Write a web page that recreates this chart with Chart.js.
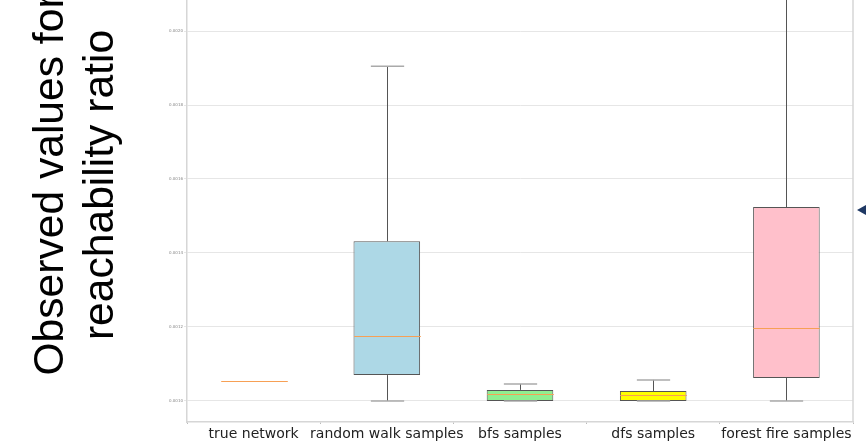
<!DOCTYPE html>
<html>
<head>
<meta charset="utf-8">
<script src="https://cdn.jsdelivr.net/npm/chart.js@4"></script>
<style>
  html, body { margin: 0; padding: 0; background: #fff; overflow: hidden; }
  #wrap { position: relative; width: 867px; height: 442px; }
  #marker {
    position: absolute; left: 857px; top: 205px; width: 0; height: 0;
    border-top: 5px solid transparent; border-bottom: 5px solid transparent;
    border-right: 9px solid #1f3864;
  }
</style>
</head>
<body>
<div id="wrap">
  <canvas id="chart" width="867" height="442"></canvas>
  <div id="marker"></div>
</div>
<script>
// box plot statistics
const categories = ['true network', 'random walk samples', 'bfs samples', 'dfs samples', 'forest fire samples'];
const whiskerLow  = [0.001054, 0.0010,   0.0010,   0.0010,   0.0010];
const q1          = [0.001054, 0.001070, 0.0010,   0.0010,   0.001062];
const median      = [0.001054, 0.001176, 0.001018, 0.001015, 0.001197];
const q3          = [0.001054, 0.001432, 0.001030, 0.001027, 0.001524];
const whiskerHigh = [0.001054, 0.001905, 0.001046, 0.001057, 0.00214];
const yTicks = [0.0010, 0.0012, 0.0014, 0.0016, 0.0018, 0.0020];

const medianColor = '#f7a055';
const boxColors = ['rgba(0,0,0,0)', '#add8e6', '#90ee90', '#ffff00', '#ffc0cb'];
const boxBorders = [medianColor, '#555', '#555', '#555', '#555'];

// whiskers, caps and median lines
const boxExtras = {
    id: 'boxExtras',
    afterDatasetsDraw(chart) {
        const ctx = chart.ctx;
        const x = chart.scales.x, y = chart.scales.y;
        const meta = chart.getDatasetMeta(0);
        const area = chart.chartArea;
        ctx.save();
        ctx.beginPath();
        ctx.rect(area.left, area.top, area.right - area.left, area.bottom - area.top);
        ctx.clip();
        categories.forEach(function(c, i) {
            const cx = Math.round(x.getPixelForValue(i)) + 0.5;
            const w = meta.data[i].width;
            const capW = w / 2;
            if (whiskerHigh[i] > q3[i]) {
                const top = y.getPixelForValue(whiskerHigh[i]);
                const low = y.getPixelForValue(whiskerLow[i]);
                ctx.strokeStyle = '#555';
                ctx.lineWidth = 1;
                ctx.beginPath();
                ctx.moveTo(cx, y.getPixelForValue(q3[i]));
                ctx.lineTo(cx, top);
                ctx.moveTo(cx, y.getPixelForValue(q1[i]));
                ctx.lineTo(cx, low);
                ctx.stroke();
                ctx.strokeStyle = '#aaa';
                ctx.lineWidth = 1.5;
                ctx.beginPath();
                ctx.moveTo(cx - capW / 2, top);
                ctx.lineTo(cx + capW / 2, top);
                ctx.moveTo(cx - capW / 2, low);
                ctx.lineTo(cx + capW / 2, low);
                ctx.stroke();
            }
            const my = Math.round(y.getPixelForValue(median[i]));
            ctx.fillStyle = medianColor;
            ctx.fillRect(cx - w / 2, my, w, 1);
        });
        ctx.restore();
    }
};

// right spine and the large y title
const frame = {
    id: 'frame',
    afterDraw(chart) {
        const ctx = chart.ctx;
        const area = chart.chartArea;
        ctx.save();
        ctx.strokeStyle = '#d6d6d6';
        ctx.lineWidth = 1.5;
        ctx.beginPath();
        ctx.moveTo(area.right, area.top);
        ctx.lineTo(area.right, area.bottom);
        ctx.stroke();
        ctx.fillStyle = '#000';
        ctx.font = '42.6px "Liberation Sans", Arial, sans-serif';
        ctx.textAlign = 'center';
        ctx.textBaseline = 'alphabetic';
        [['Observed values for', 63], ['reachability ratio', 113]].forEach(function(t) {
            ctx.save();
            ctx.translate(t[1], 185);
            ctx.rotate(-Math.PI / 2);
            ctx.fillText(t[0], 0, 0);
            ctx.restore();
        });
        ctx.restore();
    }
};

const ctx = document.getElementById('chart').getContext('2d');
new Chart(ctx, {
    type: 'bar',
    data: {
        labels: categories,
        datasets: [{
            data: q1.map(function(v, i) { return [v, q3[i]]; }),
            backgroundColor: boxColors,
            borderColor: boxBorders,
            borderWidth: 1,
            borderSkipped: false,
            categoryPercentage: 1,
            barPercentage: 0.5
        }]
    },
    options: {
        responsive: false,
        animation: false,
        layout: { padding: { left: 0, right: 14, top: 0, bottom: 0 } },
        plugins: { legend: { display: false }, tooltip: { enabled: false } },
        scales: {
            x: {
                afterFit: function(s) { s.height = 20; s.paddingLeft = 0; s.paddingRight = 0; },
                grid: { drawOnChartArea: false, tickLength: 2, color: '#bbb' },
                border: { color: '#d6d6d6', width: 1.5 },
                ticks: {
                    color: '#222', padding: 2, autoSkip: false, maxRotation: 0, minRotation: 0,
                    font: { family: 'DejaVu Sans', size: 14 }
                }
            },
            y: {
                min: 0.0009432,
                max: 0.0020838,
                afterFit: function(s) { s.width = 187; s.paddingTop = 0; s.paddingBottom = 0; },
                afterBuildTicks: function(s) { s.ticks = yTicks.map(function(v) { return { value: v }; }); },
                grid: { color: '#e6e6e6', tickLength: 3 },
                border: { color: '#d6d6d6', width: 1.5 },
                ticks: {
                    color: '#888',
                    padding: 1,
                    font: { family: 'DejaVu Sans', size: 4 },
                    callback: function(v) { return v.toFixed(4); }
                }
            }
        }
    },
    plugins: [boxExtras, frame]
});
</script>
</body>
</html>
